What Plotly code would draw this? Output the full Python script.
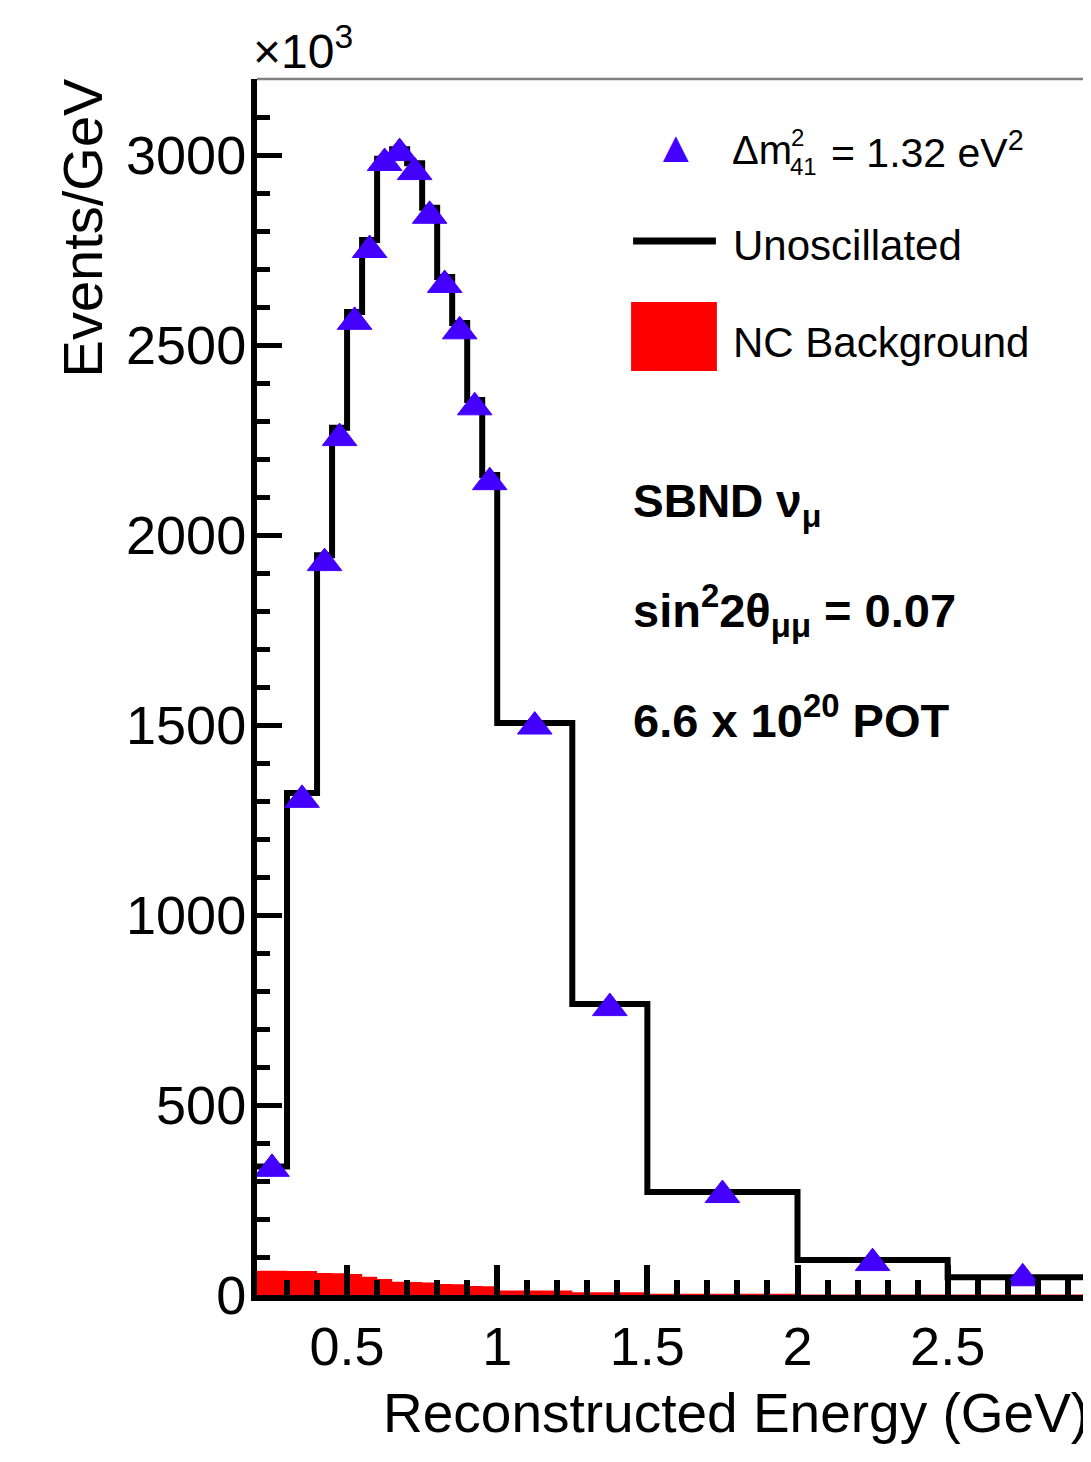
import plotly.graph_objects as go

# ---------------- data ----------------
bin_edges = [0.2, 0.3, 0.4, 0.45, 0.5, 0.55, 0.6, 0.65, 0.7, 0.75, 0.8,
             0.85, 0.9, 0.95, 1.0, 1.25, 1.5, 2.0, 2.5, 3.0]
unoscillated = [338, 1321, 1947, 2282, 2587, 2776, 2990, 3015, 2978, 2861,
                2679, 2558, 2355, 2158, 1505, 766, 271, 92, 47]
oscillated = [332, 1303, 1926, 2255, 2561, 2750, 2979, 3005, 2955, 2840,
              2658, 2536, 2336, 2139, 1496, 755, 263, 84, 44]
nc_background = [64, 63, 58, 57, 55, 48, 42, 35, 34, 33,
                 29, 28, 24, 23, 12, 7, 3, 1.5, 1]

legend_labels = ["Unoscillated", "NC Background"]
info_lines = ["<b>SBND ν<sub>μ</sub></b>",
              "<b>sin<sup>2</sup>2θ<sub>μμ</sub> = 0.07</b>",
              "<b>6.6 x 10<sup>20</sup> POT</b>"]

bin_centers = [(a + b) / 2 for a, b in zip(bin_edges[:-1], bin_edges[1:])]

# ---------------- layout geometry (screen pixels) ----------------
BODY = 8                      # default page margin of the html body
SCR_W, SCR_H = 1091, 1462
PL, PR, PT, PB = 255, 1091, 79, 1295   # plot area on screen
W = SCR_W - BODY
H = SCR_H - 2 * BODY
PW, PH = PR - PL, PB - PT
X0 = 0.2
PX_PER_GEV = 301.0
X1 = X0 + PW / PX_PER_GEV

FONT = "Liberation Sans, Arial, Helvetica, sans-serif"
BLUE = "#4400ff"


def px(x):
    return (x - PL) / PW


def py(y):
    return (PB - y) / PH


fig = go.Figure()

# NC background (filled histogram)
fig.add_trace(go.Scatter(
    x=bin_edges, y=nc_background + [nc_background[-1]],
    mode="lines", line=dict(shape="hv", width=0, color="red"),
    fill="tozeroy", fillcolor="#ff0000", hoverinfo="skip"))

# Unoscillated histogram outline
fig.add_trace(go.Scatter(
    x=bin_edges, y=unoscillated + [unoscillated[-1]],
    mode="lines", line=dict(shape="hv", width=6, color="black")))

# Oscillated points
fig.add_trace(go.Scatter(
    x=bin_centers, y=oscillated, mode="markers",
    marker=dict(symbol="triangle-up", size=30, color=BLUE,
                line=dict(width=1, color=BLUE)),
    cliponaxis=False))

fig.update_layout(
    width=W, height=H,
    margin=dict(l=PL - BODY + 2, r=0, t=PT - BODY, b=H - (PB - BODY), pad=0),
    plot_bgcolor="white", paper_bgcolor="white",
    showlegend=False,
    font=dict(family=FONT, color="black"),
)

fig.update_xaxes(
    range=[X0, X1], showgrid=False, zeroline=False,
    showline=True, linecolor="black", linewidth=6,
    ticks="inside", ticklen=30, tickwidth=6, tickcolor="black",
    tick0=0, dtick=0.5,
    minor=dict(ticks="inside", ticklen=15, tickwidth=6, tickcolor="black",
               tick0=0, dtick=0.1),
    tickfont=dict(size=54, family=FONT, color="black"),
    ticklabelstandoff=-1,
)
fig.update_yaxes(
    range=[0, 3200], showgrid=False, zeroline=False,
    showline=True, linecolor="black", linewidth=6,
    ticks="inside", ticklen=25, tickwidth=5, tickcolor="black",
    tick0=0, dtick=500,
    minor=dict(ticks="inside", ticklen=13, tickwidth=5, tickcolor="black",
               tick0=0, dtick=100),
    tickfont=dict(size=54, family=FONT, color="black"),
    ticklabelstandoff=-6,
)

shapes = []
# top frame line
shapes.append(dict(type="line", xref="paper", yref="paper", x0=0, x1=1, y0=1, y1=1,
                   line=dict(color="#808080", width=2.5)))
# legend glyphs
shapes.append(dict(type="line", xref="paper", yref="paper",
                   x0=px(632), x1=px(715), y0=py(241), y1=py(241),
                   line=dict(color="black", width=7)))
shapes.append(dict(type="rect", xref="paper", yref="paper",
                   x0=px(630), x1=px(716), y0=py(371), y1=py(302),
                   fillcolor="#ff0000", line=dict(width=0)))
fig.update_layout(shapes=shapes)

ann = []


def add_text(text, x, y, size, xanchor="left", yanchor="middle", color="black", angle=0):
    ann.append(dict(text=text, xref="paper", yref="paper", x=px(x), y=py(y),
                    xanchor=xanchor, yanchor=yanchor, showarrow=False,
                    textangle=angle,
                    font=dict(family=FONT, size=size, color=color)))


# axis titles
add_text("Reconstructed Energy (GeV)", 1091, 1413, 55, xanchor="right")
add_text("Events/GeV", 80, 228, 56, xanchor="center", angle=-90)
# exponent label
add_text("×10<sup>3</sup>", 249, 48, 48, xanchor="left")
# cut-off tick label at 3
add_text("3", PL + (3.0 - X0) * PX_PER_GEV, 1348, 54, xanchor="center")

# legend entries
add_text("▲", 675, 146, 44, xanchor="center", color=BLUE)
add_text("Δm", 729, 150, 40)
add_text("2", 788, 137, 24)
add_text("41", 787, 166, 24)
add_text("= 1.32 eV<sup>2</sup>", 828, 150, 41)
add_text(legend_labels[0], 730, 245, 42)
add_text(legend_labels[1], 730, 342, 42)

# info text
add_text(info_lines[0], 630, 505, 46)
add_text(info_lines[1], 630, 610, 47)
add_text(info_lines[2], 630, 717, 47)

fig.update_layout(annotations=ann)

fig.write_html("out.html")
